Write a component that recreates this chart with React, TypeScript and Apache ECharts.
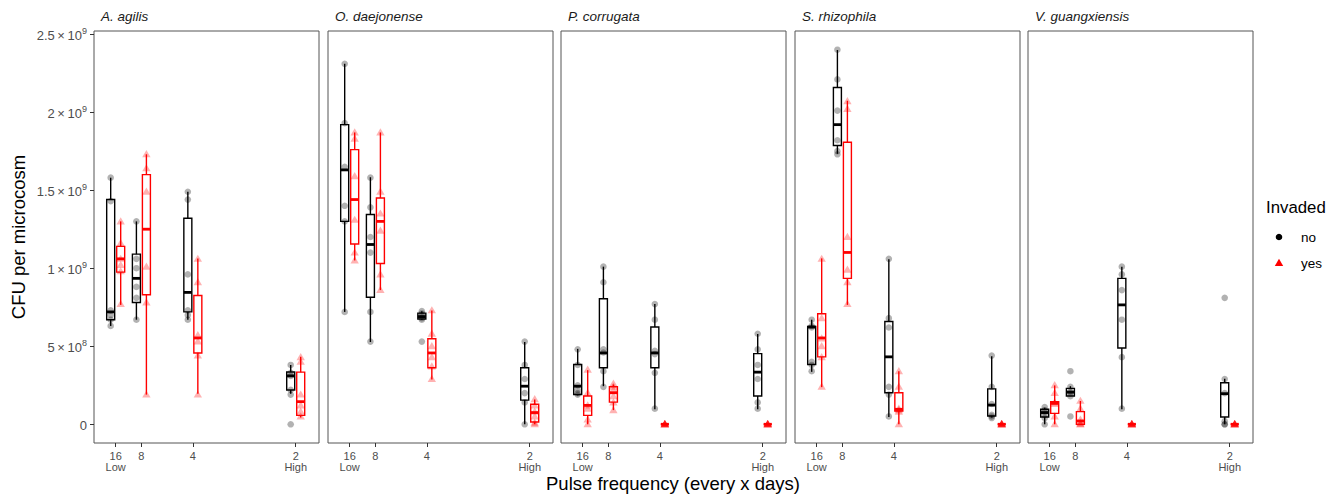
import React, { useEffect, useRef } from "react";
import * as echarts from "echarts";

// ---------- data (values in units of 10^9 CFU per microcosm) ----------
const species = ["A. agilis", "O. daejonense", "P. corrugata", "S. rhizophila", "V. guangxiensis"];
const pulseDays = [16, 8, 4, 2];
const tickLabels = ["16\nLow", "8", "4", "2\nHigh"];
const yTicks = [0, 0.5, 1, 1.5, 2, 2.5];
const yTickMantissa = ["0", "5", "1", "1.5", "2", "2.5"];
const yTickExponent = ["", "8", "9", "9", "9", "9"];
const invadedLevels = ["no", "yes"];

// box stats [min, q1, median, q3, max] per species, per pulse (16, 8, 4, 2)
const boxNo = [
  [[0.63, 0.67, 0.72, 1.44, 1.58], [0.67, 0.78, 0.935, 1.09, 1.3], [0.67, 0.72, 0.845, 1.32, 1.49], [0.195, 0.22, 0.31, 0.335, 0.38]],
  [[0.72, 1.3, 1.63, 1.92, 2.31], [0.527, 0.814, 1.152, 1.344, 1.583], [0.67, 0.675, 0.69, 0.712, 0.725], [0.0, 0.155, 0.244, 0.362, 0.527]],
  [[0.185, 0.191, 0.244, 0.383, 0.483], [0.244, 0.362, 0.457, 0.804, 1.01], [0.096, 0.362, 0.457, 0.623, 0.77], [0.096, 0.181, 0.334, 0.453, 0.578]],
  [[0.336, 0.383, 0.623, 0.627, 0.67], [1.733, 1.786, 1.92, 2.158, 2.398], [0.047, 0.202, 0.432, 0.659, 1.057], [0.043, 0.053, 0.123, 0.227, 0.436]],
  [[0.0, 0.047, 0.075, 0.096, 0.106], [0.181, 0.181, 0.206, 0.23, 0.244], [0.096, 0.489, 0.765, 0.935, 1.01], [0.0, 0.047, 0.196, 0.266, 0.291]],
];
const boxYes = [
  [[0.765, 0.975, 1.06, 1.14, 1.3], [0.19, 0.83, 1.25, 1.6, 1.73], [0.195, 0.457, 0.553, 0.825, 1.063], [0.043, 0.057, 0.145, 0.334, 0.432]],
  [[1.05, 1.155, 1.44, 1.76, 1.87], [0.86, 1.03, 1.3, 1.45, 1.87], [0.287, 0.362, 0.457, 0.548, 0.729], [0.0, 0.015, 0.075, 0.128, 0.159]],
  [[0.0, 0.057, 0.121, 0.181, 0.347], [0.091, 0.142, 0.202, 0.24, 0.255], [0, 0, 0, 0, 0], [0, 0, 0, 0, 0]],
  [[0.238, 0.432, 0.553, 0.708, 1.063], [0.765, 0.935, 1.101, 1.807, 2.073], [0.0, 0.085, 0.096, 0.202, 0.34], [0, 0, 0, 0, 0]],
  [[0.0, 0.07, 0.134, 0.145, 0.249], [0.0, 0.0, 0.021, 0.081, 0.149], [0, 0, 0, 0, 0], [0, 0, 0, 0, 0]],
];
// individual replicate values per species, per pulse
const ptsNo = [
  [[1.58, 1.43, 0.73, 0.7, 0.67, 0.63], [1.3, 1.06, 1.0, 0.88, 0.81, 0.67], [1.49, 1.44, 0.96, 0.73, 0.7, 0.67], [0.38, 0.33, 0.31, 0.22, 0.19, 0.0]],
  [[2.31, 1.93, 1.65, 1.4, 1.3, 0.72], [1.58, 1.39, 1.2, 1.1, 0.72, 0.53], [0.725, 0.71, 0.7, 0.68, 0.67, 0.53], [0.53, 0.38, 0.29, 0.2, 0.14, 0.0]],
  [[0.48, 0.38, 0.25, 0.22, 0.2, 0.19], [1.01, 0.91, 0.48, 0.46, 0.34, 0.24], [0.77, 0.67, 0.47, 0.45, 0.33, 0.1], [0.58, 0.48, 0.38, 0.29, 0.14, 0.1]],
  [[0.67, 0.63, 0.62, 0.4, 0.38, 0.34], [2.4, 2.21, 2.01, 1.82, 1.75, 1.73], [1.06, 0.68, 0.62, 0.24, 0.19, 0.05], [0.44, 0.24, 0.13, 0.06, 0.05, 0.04]],
  [[0.11, 0.09, 0.08, 0.06, 0.04, 0.0], [0.34, 0.24, 0.21, 0.2, 0.18, 0.05], [1.01, 0.96, 0.86, 0.67, 0.43, 0.1], [0.81, 0.29, 0.2, 0.02, 0.0, 0.0]],
];
const ptsYes = [
  [[1.3, 1.16, 1.06, 1.02, 0.98, 0.77], [1.73, 1.64, 1.49, 1.01, 0.78, 0.19], [1.06, 0.91, 0.57, 0.53, 0.44, 0.19], [0.43, 0.4, 0.19, 0.12, 0.08, 0.05]],
  [[1.87, 1.83, 1.59, 1.31, 1.1, 1.05], [1.87, 1.49, 1.35, 1.24, 0.96, 0.86], [0.73, 0.58, 0.5, 0.43, 0.37, 0.29], [0.16, 0.12, 0.08, 0.05, 0.01, 0.0]],
  [[0.35, 0.2, 0.12, 0.1, 0.03, 0.0], [0.26, 0.24, 0.22, 0.18, 0.14, 0.09], [0, 0, 0, 0, 0, 0], [0, 0, 0, 0, 0, 0]],
  [[1.06, 0.68, 0.55, 0.5, 0.43, 0.24], [2.07, 2.02, 1.2, 0.99, 0.91, 0.77], [0.34, 0.24, 0.1, 0.09, 0.08, 0.0], [0, 0, 0, 0, 0, 0]],
  [[0.25, 0.2, 0.14, 0.13, 0.05, 0.0], [0.15, 0.1, 0.03, 0.01, 0.0, 0.0], [0, 0, 0, 0, 0, 0], [0, 0, 0, 0, 0, 0]],
];

// ---------- layout / style ----------
const FONT = "Liberation Sans, Arial, Helvetica, sans-serif";
const GRID_LEFT0 = 94;
const GRID_STEP = 233.5;
const GRID_W = 225;
const GRID_TOP = 31;
const GRID_H = 412;
const X_MIN = 0.0098;
const X_MAX = 0.5566;
const Y_MIN = -0.12;
const Y_MAX = 2.52;
const DODGE = 5;
const BOX_W = 8;
const COLORS = ["#000000", "#ff0000"];

const xVals = pulseDays.map((d) => 1 / d);

function App() {
  const ref = useRef<HTMLDivElement>(null);

  useEffect(() => {
    document.body.style.margin = "0";
    if (!ref.current) return;
    const chart = echarts.init(ref.current, undefined, { renderer: "svg" });

    const gridLeft = (i: number) => Math.round(GRID_LEFT0 + i * GRID_STEP);

    const grids = species.map((_, i) => ({
      left: gridLeft(i),
      top: GRID_TOP,
      width: GRID_W,
      height: GRID_H,
      show: true,
      borderColor: "#555555",
      borderWidth: 1,
      backgroundColor: "transparent",
    }));

    const xAxes = species.map((_, i) => ({
      type: "value",
      gridIndex: i,
      position: "bottom",
      min: X_MIN,
      max: X_MAX,
      splitLine: { show: false },
      axisLine: { show: false, onZero: false },
      axisTick: { show: true, length: 4, customValues: xVals, lineStyle: { color: "#333333", width: 1 } },
      axisLabel: {
        show: true,
        customValues: xVals,
        margin: 7,
        color: "#4d4d4d",
        fontSize: 11,
        lineHeight: 11,
        fontFamily: FONT,
        formatter: (v: number) => {
          const idx = xVals.findIndex((x) => Math.abs(x - v) < 1e-6);
          return idx >= 0 ? tickLabels[idx] : "";
        },
      },
    }));

    const yAxes = species.map((_, i) => ({
      type: "value",
      gridIndex: i,
      position: "left",
      min: Y_MIN,
      max: Y_MAX,
      splitLine: { show: false },
      axisLine: { show: false, onZero: false },
      axisTick: { show: i === 0, length: 4, customValues: yTicks, lineStyle: { color: "#333333", width: 1 } },
      axisLabel: {
        show: i === 0,
        customValues: yTicks,
        margin: 7,
        color: "#4d4d4d",
        fontFamily: FONT,
        formatter: (v: number) => {
          const idx = yTicks.findIndex((t) => Math.abs(t - v) < 1e-6);
          if (idx < 0) return "";
          if (!yTickExponent[idx]) return "{m|" + yTickMantissa[idx] + "}";
          return "{m|" + yTickMantissa[idx] + "\u2009\u00d7\u200910}{e|" + yTickExponent[idx] + "}";
        },
        rich: {
          m: { fontSize: 13, color: "#4d4d4d", fontFamily: FONT, lineHeight: 16, verticalAlign: "bottom" },
          e: { fontSize: 9, color: "#4d4d4d", fontFamily: FONT, lineHeight: 16, verticalAlign: "top", padding: [0, 0, 6, 0] },
        },
      },
    }));

    const series: any[] = [];
    species.forEach((_, si) => {
      const boxData: number[][] = [];
      const ptData: number[][] = [];
      pulseDays.forEach((_, pi) => {
        [boxNo, boxYes].forEach((b, inv) => {
          boxData.push([xVals[pi], inv, ...b[si][pi]]);
        });
        [ptsNo, ptsYes].forEach((p, inv) => {
          p[si][pi].forEach((v) => ptData.push([xVals[pi], inv, v]));
        });
      });

      series.push({
        type: "custom",
        xAxisIndex: si,
        yAxisIndex: si,
        data: boxData,
        encode: { x: 0, y: [2, 3, 4, 5, 6] },
        z: 2,
        renderItem: (params: any, api: any) => {
          const x = api.value(0);
          const inv = api.value(1);
          const off = inv === 0 ? -DODGE : DODGE;
          const pMin = api.coord([x, api.value(2)]);
          const pQ1 = api.coord([x, api.value(3)]);
          const pMed = api.coord([x, api.value(4)]);
          const pQ3 = api.coord([x, api.value(5)]);
          const pMax = api.coord([x, api.value(6)]);
          const cx = pMin[0] + off;
          const color = COLORS[inv];
          const ls = { stroke: color, lineWidth: 1.4, fill: "none" };
          return {
            type: "group",
            children: [
              { type: "line", shape: { x1: cx, y1: pMax[1], x2: cx, y2: pQ3[1] }, style: ls },
              { type: "line", shape: { x1: cx, y1: pQ1[1], x2: cx, y2: pMin[1] }, style: ls },
              {
                type: "rect",
                shape: { x: cx - BOX_W / 2, y: pQ3[1], width: BOX_W, height: pQ1[1] - pQ3[1] },
                style: ls,
              },
              {
                type: "line",
                shape: { x1: cx - BOX_W / 2, y1: pMed[1], x2: cx + BOX_W / 2, y2: pMed[1] },
                style: { stroke: color, lineWidth: 2.8 },
              },
            ],
          };
        },
      });

      series.push({
        type: "custom",
        xAxisIndex: si,
        yAxisIndex: si,
        data: ptData,
        encode: { x: 0, y: 2 },
        z: 3,
        renderItem: (params: any, api: any) => {
          const x = api.value(0);
          const inv = api.value(1);
          const p = api.coord([x, api.value(2)]);
          const cx = p[0] + (inv === 0 ? -DODGE : DODGE);
          const cy = p[1];
          if (inv === 0) {
            return { type: "circle", shape: { cx, cy, r: 3.3 }, style: { fill: "#000000", opacity: 0.3 } };
          }
          return {
            type: "polygon",
            shape: { points: [[cx, cy - 4.2], [cx - 4.2, cy + 3], [cx + 4.2, cy + 3]] },
            style: { fill: "#ff0000", opacity: 0.3 },
          };
        },
      });
    });

    const titles = species.map((s, i) => ({
      text: s,
      left: gridLeft(i) + 7,
      top: 9,
      padding: 0,
      textStyle: { fontStyle: "italic", fontWeight: "normal", fontSize: 13.5, color: "#1a1a1a", fontFamily: FONT },
    }));

    const graphic: any[] = [
      {
        type: "text",
        x: 18,
        y: 237,
        rotation: Math.PI / 2,
        style: { text: "CFU per microcosm", font: "18.5px " + FONT, fill: "#000000", align: "center", verticalAlign: "middle" },
      },
      {
        type: "text",
        x: 673,
        y: 483,
        style: { text: "Pulse frequency (every x days)", font: "18.5px " + FONT, fill: "#000000", align: "center", verticalAlign: "middle" },
      },
      {
        type: "text",
        x: 1266,
        y: 207,
        style: { text: "Invaded", font: "16.8px " + FONT, fill: "#000000", align: "left", verticalAlign: "middle" },
      },
      { type: "circle", shape: { cx: 1279, cy: 237, r: 3.3 }, style: { fill: COLORS[0] } },
      {
        type: "text",
        x: 1301,
        y: 237,
        style: { text: invadedLevels[0], font: "13.5px " + FONT, fill: "#000000", align: "left", verticalAlign: "middle" },
      },
      {
        type: "polygon",
        shape: { points: [[1279, 258.8], [1274.8, 266], [1283.2, 266]] },
        style: { fill: COLORS[1] },
      },
      {
        type: "text",
        x: 1301,
        y: 263,
        style: { text: invadedLevels[1], font: "13.5px " + FONT, fill: "#000000", align: "left", verticalAlign: "middle" },
      },
    ];

    chart.setOption({
      animation: false,
      backgroundColor: "#ffffff",
      title: titles,
      grid: grids,
      xAxis: xAxes,
      yAxis: yAxes,
      series,
      graphic,
    });

    return () => chart.dispose();
  }, []);

  return <div ref={ref} style={{ width: 1341, height: 496 }} />;
}

export default App;
